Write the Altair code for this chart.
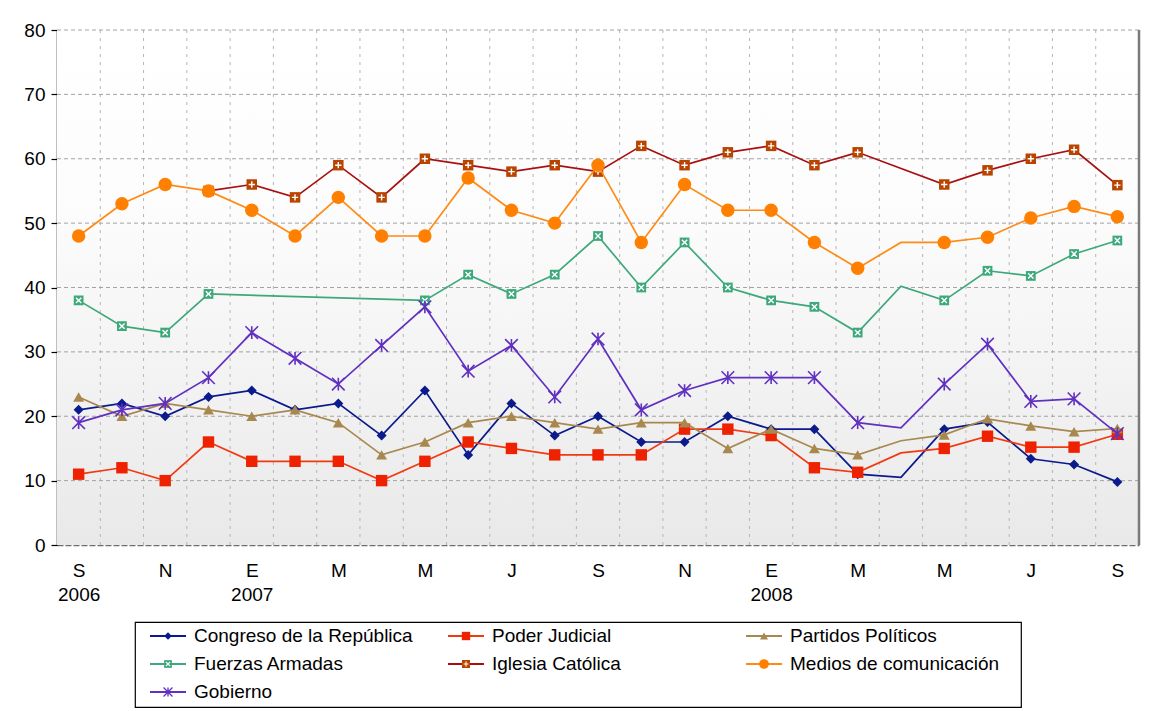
import altair as alt
import pandas as pd
import numpy as np

# ---------------- data ----------------
series_names = [
    "Congreso de la República",
    "Poder Judicial",
    "Partidos Políticos",
    "Fuerzas Armadas",
    "Iglesia Católica",
    "Medios de comunicación",
    "Gobierno",
]

# monthly values, Sep 2006 .. Sep 2008 (25 months); None = no survey value
congreso = [21, 22, 20, 23, 24, 21, 22, 17, 24, 14, 22, 17, 20, 16, 16, 20, 18, 18, 11, 10.5, 18, 19.1, 13.4, 12.5, 9.8]
judicial = [11, 12, 10, 16, 13, 13, 13, 10, 13, 16, 15, 14, 14, 14, 18, 18, 17, 12, 11.3, 14.3, 15, 16.9, 15.2, 15.2, 17.2]
partidos = [23, 20, 22, 21, 20, 21, 19, 14, 16, 19, 20, 19, 18, 19, 19, 15, 18, 15, 14, 16.2, 17.1, 19.6, 18.5, 17.6, 18.1]
fuerzas = [38, 34, 33, 39, None, None, None, None, 38, 42, 39, 42, 48, 40, 47, 40, 38, 37, 33, 40.2, 38, 42.6, 41.8, 45.2, 47.3]
iglesia = [None, None, None, 55, 56, 54, 59, 54, 60, 59, 58, 59, 58, 62, 59, 61, 62, 59, 61, None, 56, 58.2, 60, 61.4, 55.9]
medios = [48, 53, 56, 55, 52, 48, 54, 48, 48, 57, 52, 50, 59, 47, 56, 52, 52, 47, 43, 47, 47, 47.8, 50.8, 52.6, 51]
gobierno = [19, 21, 22, 26, 33, 29, 25, 31, 37, 27, 31, 23, 32, 21, 24, 26, 26, 26, 19, 18.2, 25, 31.2, 22.3, 22.7, 17.3]

# months whose vertex is drawn without a marker
unmarked_months = [19]

# x-axis tick labels (every second month)
tick_months = ["S", "N", "E", "M", "M", "J", "S", "N", "E", "M", "M", "J", "S"]
tick_years = ["2006", "", "2007", "", "", "", "", "", "2008", "", "", "", ""]
y_ticks = [0, 10, 20, 30, 40, 50, 60, 70, 80]

all_values = [congreso, judicial, partidos, fuerzas, iglesia, medios, gobierno]

rows = []
for name, vals in zip(series_names, all_values):
    for i, v in enumerate(vals):
        if v is None:
            continue
        rows.append({"serie": name, "mes": i, "valor": v, "marcado": i not in unmarked_months})
df = pd.DataFrame(rows)

n_months = len(congreso)

# ---------------- styles ----------------
FONT = "Liberation Sans"
ASTERISK = "M-1,-1L1,1M-1,1L1,-1M0,-1L0,1"
XMARK = "M-0.55,-0.55L0.55,0.55M-0.55,0.55L0.55,-0.55"
PLUS = "M-0.6,0L0.6,0M0,-0.6L0,0.6"

styles = {
    "Congreso de la República": dict(line="#0B1A8C", mark="#0B1A8C", shape="diamond", size=100, lsize=60, filled=True),
    "Poder Judicial": dict(line="#F23A12", mark="#EE2200", shape="square", size=130, lsize=70, filled=True),
    "Partidos Políticos": dict(line="#A8884E", mark="#A8884E", shape="triangle-up", size=120, lsize=65, filled=True),
    "Fuerzas Armadas": dict(line="#3DA87A", mark="#3DA87A", shape="square", size=95, lsize=60, filled=True,
                            over=XMARK, over_size=95, over_lsize=60),
    "Iglesia Católica": dict(line="#A81010", mark="#B84400", shape="square", size=110, lsize=65, filled=True,
                             over=PLUS, over_size=110, over_lsize=65),
    "Medios de comunicación": dict(line="#FF8A14", mark="#FF8000", shape="circle", size=180, lsize=95, filled=True),
    "Gobierno": dict(line="#6030C0", mark="#6030C0", shape=ASTERISK, size=160, lsize=80, filled=False),
}

# ---------------- main chart ----------------
W, H = 1082, 515
x_dom = [-0.5, n_months - 0.5]

label_expr = "[" + ",".join('["%s","%s"]' % (m, y) for m, y in zip(tick_months, tick_years)) + "][round(datum.value/2)]"

x_axis = alt.Axis(
    values=list(range(0, n_months, 2)), labelExpr=label_expr, ticks=False, grid=False,
    domainColor="#6E6E6E", domainDash=[6, 2], domainWidth=1.5,
    labelFontSize=19, labelFont=FONT, labelColor="black", labelPadding=16,
    labelLineHeight=24, labelFlush=False, labelOverlap=False, title=None,
)
y_axis = alt.Axis(
    values=y_ticks, grid=False, domainColor="black", domainWidth=1.5,
    tickColor="black", tickSize=6, tickWidth=1.2,
    labelFontSize=19, labelFont=FONT, labelColor="black", labelPadding=6, title=None,
)
x_scale = alt.Scale(domain=x_dom, nice=False, zero=False)
y_scale = alt.Scale(domain=[0, 80], nice=False)

def X(field):
    return alt.X(field, type="quantitative", scale=x_scale, axis=x_axis)

def Y(field):
    return alt.Y(field, type="quantitative", scale=y_scale, axis=y_axis)

gradient = alt.LinearGradient(
    gradient="linear",
    stops=[alt.GradientStop(color="#FFFFFF", offset=0),
           alt.GradientStop(color="#FCFCFC", offset=0.35),
           alt.GradientStop(color="#E9E9E9", offset=1)],
    x1=0, x2=0, y1=0, y2=1,
)

bg = alt.Chart(pd.DataFrame({"x0": [x_dom[0]], "x1": [x_dom[1]], "y0": [y_ticks[0]], "y1": [y_ticks[-1]]})).mark_rect(
    fill=gradient).encode(x=X("x0"), x2="x1", y=Y("y0"), y2="y1")

vgrid = alt.Chart(pd.DataFrame({"g": np.arange(0.5, n_months - 1, 1.0)})).mark_rule(
    color="#B5B5B5", strokeDash=[3, 5], strokeWidth=1).encode(x=X("g"))

hgrid = alt.Chart(pd.DataFrame({"v": y_ticks[1:]})).mark_rule(
    color="#A3A3A3", strokeDash=[4, 3], strokeWidth=1).encode(y=Y("v"))

right_border = alt.Chart(pd.DataFrame({"r": [x_dom[1]]})).mark_rule(
    color="#7A7A7A", strokeWidth=2.5).encode(x=X("r"))

layers = [bg, vgrid, hgrid]
base = alt.Chart(df)
for name in series_names:
    st = styles[name]
    s = base.transform_filter(alt.datum.serie == name)
    layers.append(s.mark_line(color=st["line"], strokeWidth=1.7).encode(x=X("mes"), y=Y("valor")))
    pts = s.transform_filter(alt.datum.marcado == True)
    if st["filled"]:
        layers.append(pts.mark_point(shape=st["shape"], size=st["size"], filled=True, color=st["mark"],
                                     opacity=1).encode(x=X("mes"), y=Y("valor")))
    else:
        layers.append(pts.mark_point(shape=st["shape"], size=st["size"], filled=False, color=st["mark"],
                                     strokeWidth=1.6, opacity=1).encode(x=X("mes"), y=Y("valor")))
    if "over" in st:
        layers.append(pts.mark_point(shape=st["over"], size=st["over_size"], filled=False, color="white",
                                     strokeWidth=1.4, opacity=1).encode(x=X("mes"), y=Y("valor")))
layers.append(right_border)

main = alt.layer(*layers).properties(width=W, height=H, view=alt.ViewBackground(stroke="transparent"))

# ---------------- legend (drawn as its own small chart) ----------------
LW, LH = 886, 85
COLS = 3
leg_df = pd.DataFrame({
    "serie": series_names,
    "col": [i % COLS for i in range(len(series_names))],
    "row": [i // COLS for i in range(len(series_names))],
})
lx = alt.X("col:Q", scale=alt.Scale(domain=[0, 3], range=[15, 15 + 3 * 298]), axis=None)
ly = alt.Y("row:Q", scale=alt.Scale(domain=[0, 3], range=[14, 14 + 3 * 28]), axis=None)
lbase = alt.Chart(leg_df)
leg_layers = []
for name in series_names:
    st = styles[name]
    s = lbase.transform_filter(alt.datum.serie == name)
    leg_layers.append(s.mark_rule(color=st["line"], strokeWidth=2, x2Offset=36).encode(x=lx, x2="col:Q", y=ly))
    if st["filled"]:
        leg_layers.append(s.mark_point(shape=st["shape"], size=st["lsize"], filled=True, color=st["mark"],
                                       opacity=1, xOffset=18).encode(x=lx, y=ly))
    else:
        leg_layers.append(s.mark_point(shape=st["shape"], size=st["lsize"], filled=False, color=st["mark"],
                                       strokeWidth=1.3, opacity=1, xOffset=18).encode(x=lx, y=ly))
    if "over" in st:
        leg_layers.append(s.mark_point(shape=st["over"], size=st["over_lsize"], filled=False, color="white",
                                       strokeWidth=1.1, opacity=1, xOffset=18).encode(x=lx, y=ly))
leg_layers.append(lbase.mark_text(align="left", baseline="middle", dx=44, fontSize=19, font=FONT,
                                  color="black").encode(x=lx, y=ly, text="serie:N"))
legend = alt.layer(*leg_layers).properties(
    width=LW, height=LH, view=alt.ViewBackground(stroke="black", strokeWidth=1.2))

spacer = alt.Chart(pd.DataFrame({"a": [0]})).mark_point(opacity=0).encode(
    x=alt.X("a:Q", axis=None), y=alt.Y("a:Q", axis=None)
).properties(width=76, height=LH, view=alt.ViewBackground(stroke="transparent"))

chart = alt.vconcat(
    main,
    alt.hconcat(spacer, legend, spacing=0),
    spacing=16,
).properties(
    padding={"left": 15, "top": 12, "right": 0, "bottom": 0},
    background="white",
).configure_view(stroke="transparent")

chart.save("out.html", embed_options={"renderer": "svg", "actions": False})
